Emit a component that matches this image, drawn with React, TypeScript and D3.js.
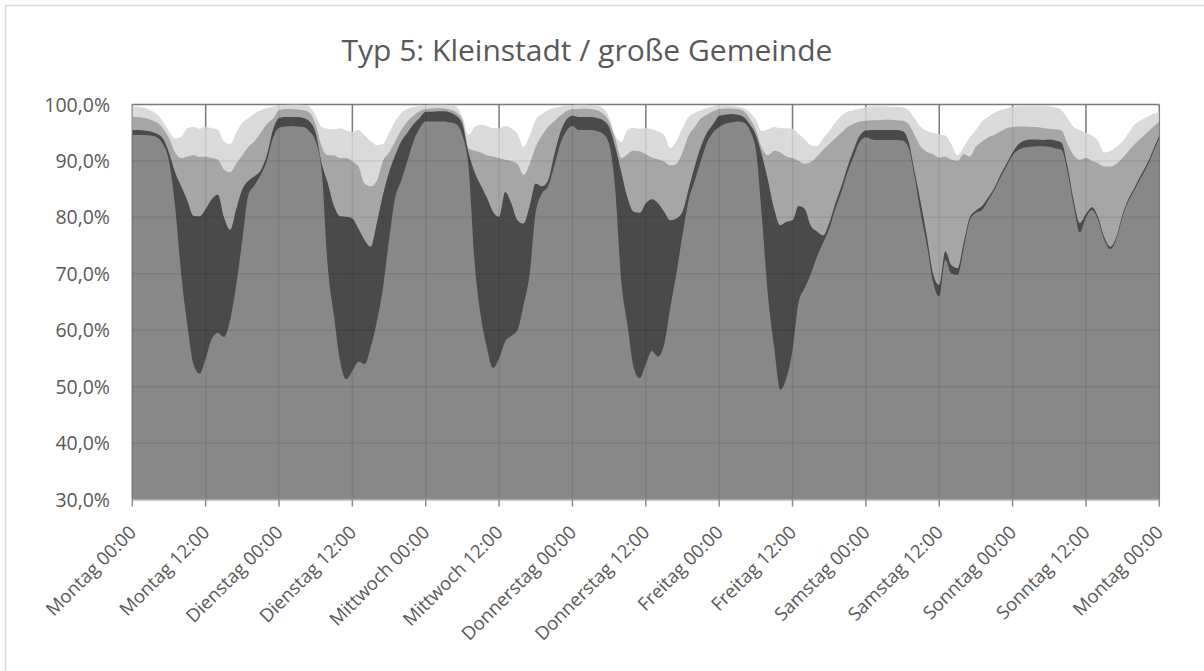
import React, { useEffect, useRef } from "react";
import * as d3 from "d3";

const tickLabels = [
  "Montag 00:00", "Montag 12:00", "Dienstag 00:00", "Dienstag 12:00",
  "Mittwoch 00:00", "Mittwoch 12:00", "Donnerstag 00:00", "Donnerstag 12:00",
  "Freitag 00:00", "Freitag 12:00", "Samstag 00:00", "Samstag 12:00",
  "Sonntag 00:00", "Sonntag 12:00", "Montag 00:00",
];
const yTicks = [30, 40, 50, 60, 70, 80, 90, 100];

// stacked shares in %, upper edge of each band, one value per hour (Mo 00:00 .. next Mo 00:00)
const baseTop = [
  94.6, 94.6, 94.6, 94.5, 94.2, 93, 90, 82, 70, 61, 54, 52.3, 55, 58.5, 59.5, 58.8, 61.8, 68, 76, 84, 85.7, 87.5, 90, 94,
  95.9, 96.1, 96.2, 96.1, 96, 95.2, 93.5, 88, 71, 62.5, 54.5, 51.3, 52.8, 54.4, 54, 57, 61.5, 67.5, 76, 83.5, 86.5, 90, 93.5, 95.8,
  97, 97, 97, 97, 96.8, 96.5, 94.5, 89, 72, 62.5, 57, 53.3, 55, 58, 59, 60, 64.5, 70, 81, 84.2, 85.5, 89, 93, 95.3,
  96.2, 95.5, 95.5, 95.5, 95.3, 94.8, 93, 85, 68.5, 61, 53.5, 51.5, 54, 56.3, 55.3, 57.5, 64, 70, 76.9, 83, 86.5, 90, 93.2, 95,
  96, 96.6, 96.8, 97, 96.8, 95.5, 92, 80, 66, 57, 49.5, 51.5, 56.5, 65, 67.5, 70, 73, 75.5, 78, 81.5, 84.5, 88, 90.8, 93.4,
  94.2, 93.8, 93.7, 93.7, 93.7, 93.7, 93.6, 92.3, 87, 80.5, 75, 68.5, 66, 72.5, 70, 69.8, 74.5, 79.5, 80.8, 81.3, 83, 84.8, 87, 89,
  91, 92, 92.4, 92.5, 92.6, 92.6, 92.5, 92.2, 92, 88, 82, 77.3, 80, 81.3, 79.5, 76, 74.4, 76.2, 80.2, 83, 85, 87, 89, 91.5, 94,
];

const darkTop = [
  95.5, 95.5, 95.4, 95.2, 94.8, 94, 91.5, 88, 85.5, 83, 80.3, 80.2, 81.5, 83.2, 84, 80, 77.8, 81.5, 85, 86.5, 87.3, 88.3, 91, 95.5,
  97.6, 97.8, 97.8, 97.8, 97.6, 97, 95, 89.5, 86, 82, 80.2, 80.1, 79.8, 78, 76, 74.8, 79, 84, 88, 91, 93.5, 95, 96.5, 97.6,
  98.7, 98.7, 98.8, 98.8, 98.6, 98, 96.5, 91.5, 88, 85.7, 83.5, 81, 80.1, 84.5, 82.5, 79.5, 78.9, 82, 86, 85.5, 86.5, 91, 95, 97.3,
  98, 97.8, 97.8, 97.8, 97.6, 97.2, 96, 92.5, 88, 83.5, 81, 80.8, 82.5, 83.2, 82.5, 81, 79.5, 79.8, 81, 85, 89, 92.5, 95, 96.5,
  98, 98.2, 98.3, 98.2, 97.8, 96.5, 94.6, 91, 86.5, 81.5, 78.6, 79.2, 79.5, 82, 81.5, 78.5, 77.5, 76.8, 79, 82.5, 85.5, 89, 92, 94.5,
  95.4, 95.5, 95.5, 95.5, 95.5, 95.5, 95.3, 93.4, 88, 82.5, 76.5, 70, 68, 74, 71.5, 71, 75.5, 80, 81.2, 82, 83.5, 85.2, 87.5, 89.5,
  91.5, 93, 93.6, 93.8, 93.8, 93.7, 93.8, 93.6, 93.2, 89, 83, 79, 80.6, 81.8, 80, 76.5, 74.8, 76.6, 80.6, 83.4, 85.4, 87.5, 89.5, 92, 94.5,
];

const midTop = [
  97.8, 97.8, 97.6, 97.3, 96.8, 95.8, 94, 91.5, 90.5, 90.8, 91, 90.7, 90.8, 90.5, 90.2, 88.5, 88, 89.5, 91, 92.5, 93.5, 95, 96.5, 97.5,
  99, 99.2, 99.2, 99.1, 99, 98.5, 96.5, 92.5, 91, 91, 90.5, 90.5, 89.9, 89, 86, 85.5, 86.5, 90, 91.5, 93.5, 95.5, 97, 98, 98.8,
  99.2, 99.3, 99.4, 99.3, 99.1, 98.6, 97.3, 92.3, 91.8, 91.5, 91, 90.8, 90.5, 90.2, 90, 89.5, 87.5, 89.5, 92.5, 94.5, 96, 97, 98, 98.8,
  99.2, 99.2, 99.3, 99.2, 99, 98.4, 97, 94, 90.5, 91.2, 91.8, 91.7, 91.2, 90.6, 90.3, 89.9, 89.2, 89.5, 91.5, 94.5, 96, 97.5, 98.2, 98.8,
  99.2, 99.3, 99.3, 99.2, 98.8, 97.5, 95.5, 92.3, 91, 91.8, 91.5, 90.8, 90.5, 90, 89.5, 89.8, 90.8, 92, 93, 94, 95, 96, 96.6, 97,
  97.1, 97.2, 97.2, 97.3, 97.3, 97.2, 97.1, 96.5, 94.5, 92.5, 91.6, 91.2, 90.6, 90.8, 90.2, 90, 91.2, 90.8, 92.5, 93.4, 94.2, 94.6, 95.2, 95.8,
  96, 96.1, 96.1, 96, 96, 95.8, 95.7, 95.6, 95.4, 93, 91, 90.2, 90.5, 90, 89.6, 89, 89, 89.5, 90.5, 91.8, 93, 94, 95, 96, 97,
];

const lightTop = [
  99.7, 99.6, 99.4, 99.0, 98.3, 97.0, 95.3, 94.0, 94.3, 95.8, 96.0, 95.7, 96.0, 95.8, 95.5, 93.5, 93.0, 95.0, 96.8, 97.6, 98.4, 99.0, 99.4, 99.6,
  99.9, 99.9, 100, 100, 99.9, 99.6, 98, 96, 95.7, 95.6, 95.8, 95.4, 95.2, 95.5, 94.5, 93.5, 92.8, 93, 95, 97, 98.5, 99.2, 99.6, 99.8,
  99.9, 100, 100, 100, 99.9, 99.6, 97.8, 94.6, 96, 96.4, 96.2, 95.8, 95.8, 96.2, 95.8, 94.8, 92.5, 94.5, 97.3, 98.3, 99, 99.4, 99.6, 99.8,
  99.9, 100, 100, 99.9, 99.8, 99.4, 97.8, 94.5, 93.4, 95.5, 95.9, 95.7, 95.8, 95.6, 95.2, 94.6, 92.3, 93.5, 95.8, 97.8, 98.5, 99, 99.4, 99.7,
  99.9, 99.9, 99.8, 99.6, 99.4, 98.6, 97.4, 95.3, 95.6, 96, 95.8, 95.8, 95.7, 94.8, 93.8, 92.8, 92.6, 94, 95.3, 96.8, 98, 98.7, 99, 99.2,
  99.5, 99.7, 99.7, 99.7, 99.6, 99.6, 99.5, 99, 97.5, 96, 95.3, 95, 94.7, 94.5, 93, 91, 92.5, 94.2, 95.5, 97, 97.8, 98.5, 99, 99.3,
  99.6, 99.7, 99.8, 99.8, 99.8, 99.8, 99.7, 99.5, 99, 97.5, 96, 95.5, 95, 94.5, 93.5, 91.5, 91.8, 92.5, 93.5, 95, 96.5, 97.2, 97.8, 98.3, 98.8,
];

// painted from the top band down, each one filled from the axis floor
const bands = [
  { top: lightTop, fill: "#dadada" },
  { top: midTop, fill: "#a6a6a6" },
  { top: darkTop, fill: "#4a4a4a" },
  { top: baseTop, fill: "#888888" },
];

const WIDTH = 1204;
const HEIGHT = 671;
const FONT = "'Open Sans', 'DejaVu Sans', sans-serif";
const TEXT = "#595959";

export default function App() {
  const svgRef = useRef<SVGSVGElement>(null);

  useEffect(() => {
    if (!svgRef.current) return;
    const svg = d3.select(svgRef.current);
    svg.selectAll("*").remove();

    const left = 132.3;
    const right = 1159.3;
    const top = 104.5;
    const bottom = 499.5;

    const x = d3.scaleLinear().domain([0, baseTop.length - 1]).range([left, right]);
    const y = d3.scaleLinear().domain([30, 100]).range([bottom, top]);
    const tickHours = tickLabels.map((_, i) => i * 12);

    // chart frame
    svg
      .append("rect")
      .attr("x", 5.5)
      .attr("y", 5.5)
      .attr("width", WIDTH + 20)
      .attr("height", HEIGHT + 20)
      .attr("fill", "#fff")
      .attr("stroke", "#d9d9d9")
      .attr("stroke-width", 1.5);

    svg
      .append("text")
      .attr("x", 587)
      .attr("y", 61)
      .attr("text-anchor", "middle")
      .attr("font-family", FONT)
      .attr("font-size", 30)
      .attr("fill", TEXT)
      .text("Typ 5: Kleinstadt / große Gemeinde");

    const drawGrid = (g, color, opacity) => {
      g.selectAll("line.h")
        .data(yTicks)
        .enter()
        .append("line")
        .attr("x1", left)
        .attr("x2", right)
        .attr("y1", (d) => y(d))
        .attr("y2", (d) => y(d))
        .attr("stroke", color)
        .attr("stroke-opacity", opacity)
        .attr("stroke-width", 1.5);
      g.selectAll("line.v")
        .data(tickHours)
        .enter()
        .append("line")
        .attr("x1", (d) => x(d))
        .attr("x2", (d) => x(d))
        .attr("y1", top)
        .attr("y2", bottom)
        .attr("stroke", color)
        .attr("stroke-opacity", opacity)
        .attr("stroke-width", 1.5);
    };

    drawGrid(svg.append("g"), "#868686", 1);

    svg
      .append("clipPath")
      .attr("id", "plot-clip")
      .append("rect")
      .attr("x", left)
      .attr("y", top)
      .attr("width", right - left)
      .attr("height", bottom - top);

    const areas = svg.append("g").attr("clip-path", "url(#plot-clip)");
    bands.forEach((band) => {
      const area = d3
        .area<number>()
        .x((_, i) => x(i))
        .y0(y(30))
        .y1((d) => y(d))
        .curve(d3.curveMonotoneX);
      areas.append("path").attr("d", area(band.top)).attr("fill", band.fill);
    });

    // gridlines show faintly through the bands
    drawGrid(svg.append("g"), "#000", 0.08);

    // x axis
    const axis = svg.append("g");
    axis
      .append("line")
      .attr("x1", left)
      .attr("x2", right)
      .attr("y1", bottom)
      .attr("y2", bottom)
      .attr("stroke", "#a6a6a6")
      .attr("stroke-width", 1.5);
    axis
      .selectAll("line.tick")
      .data(tickHours)
      .enter()
      .append("line")
      .attr("x1", (d) => x(d))
      .attr("x2", (d) => x(d))
      .attr("y1", bottom)
      .attr("y2", bottom + 7)
      .attr("stroke", "#8c8c8c")
      .attr("stroke-width", 1.5);

    axis
      .selectAll("text.xl")
      .data(tickLabels)
      .enter()
      .append("text")
      .attr("transform", (_, i) => `translate(${x(tickHours[i]) + 5},${bottom + 34}) rotate(-45)`)
      .attr("text-anchor", "end")
      .attr("font-family", FONT)
      .attr("font-size", 18.5)
      .attr("fill", TEXT)
      .text((d) => d);

    svg
      .append("g")
      .selectAll("text")
      .data(yTicks)
      .enter()
      .append("text")
      .attr("x", 110)
      .attr("y", (d) => y(d))
      .attr("dy", "0.36em")
      .attr("text-anchor", "end")
      .attr("font-family", FONT)
      .attr("font-size", 19.5)
      .attr("fill", TEXT)
      .text((d) => d3.format(".1f")(d).replace(".", ",") + "%");
  }, []);

  return (
    <svg
      ref={svgRef}
      width={WIDTH}
      height={HEIGHT}
      style={{ position: "absolute", left: 0, top: 0, background: "#fff" }}
    ></svg>
  );
}
